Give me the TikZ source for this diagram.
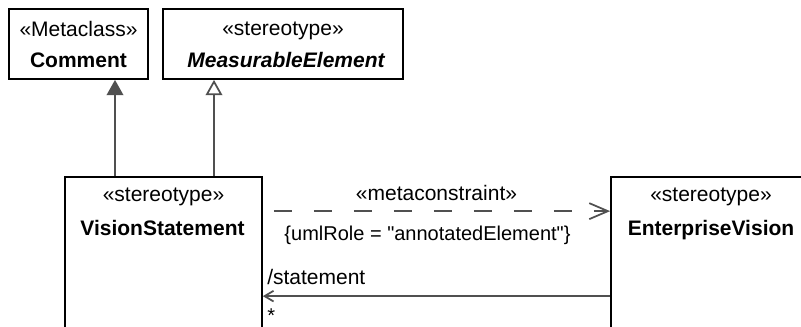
\documentclass[tikz,border=0pt]{standalone}
\usepackage{fontspec}
\setmainfont{Liberation Sans}
\usetikzlibrary{arrows.meta,calc,fit}
\definecolor{conn}{HTML}{505050}
\newcommand{\straightdq}{\XeTeXglyph\XeTeXglyphindex "quotedbl"\relax}
\tikzset{
  box/.style={draw=black, line width=1.3pt, inner sep=0pt, fill=white},
  lbl/.style={inner sep=0pt, anchor=base, font=\fontsize{15.75}{19}\selectfont},
  lblsmall/.style={inner sep=0pt, anchor=base, font=\fontsize{15}{18}\selectfont},
  connline/.style={draw=conn, line width=1.3pt},
  genfilled/.style={connline, -{Triangle[length=11.5pt, width=12.5pt, fill=conn]}},
  genopen/.style={connline, -{Triangle[open, length=11.5pt, width=12.5pt, fill=white]}},
  dashdep/.style={connline, dash pattern=on 13.5pt off 16.5pt, -{Straight Barb[length=14pt, width=12pt]}},
  assoc/.style={connline, -{Straight Barb[length=6.75pt, width=8pt]}}
}
\begin{document}
\begin{tikzpicture}[x=0.75pt, y=-0.75pt]
\useasboundingbox (0,0) rectangle (801,326);
\clip (0,0) rectangle (801,326);
\fill[white] (0,0) rectangle (801,326);

% boxes
\node[box, fit={(9,9)(148,79)}] (cm) {};
\node[box, fit={(163,9)(403,79)}] (me) {};
\node[box, fit={(65,177)(262,345)}] (vs) {};
\node[box, fit={(611,177)(815,345)}] (ev) {};

% texts
\node[lbl] (cmst) at (78.5,36) {«Metaclass»};
\node[lbl] (cmname) at (78.5,67) {\bfseries Comment};
\node[lbl] (mest) at (283,35) {«stereotype»};
\node[lbl] (mename) at (286,67) {\bfseries\itshape MeasurableElement};
\node[lbl] (vsst) at (163.5,201) {«stereotype»};
\node[lbl] (vsname) at (162.5,235) {\bfseries VisionStatement};
\node[lbl] (evst) at (711,201) {«stereotype»};
\node[lbl] (evname) at (711,235) {\bfseries EnterpriseVision};

% connectors
\coordinate (g1) at ($(vs.north)+(-48.5,0)$);
\coordinate (g2) at ($(vs.north)+(50.5,0)$);
\draw[genfilled] (g1) -- (g1 |- cm.south);
\draw[genopen] (g2) -- (g2 |- me.south);

\coordinate (d1) at ($(vs.north east)+(11,35)$);
\draw[dashdep] (d1) -- (d1 -| ev.west);
\node[lbl] (mc) at (436.5,200) {«metaconstraint»};
\node[lblsmall] (role) at (427.5,240) {\{umlRole = \straightdq annotatedElement\straightdq\}};

\coordinate (a1) at ($(ev.north west)+(0,120)$);
\draw[assoc] (a1) -- (a1 -| vs.east);
\node[lbl, anchor=base west] (st) at (267,284) {/statement};
\node[lblsmall, anchor=base west] (mult) at (267,322) {*};
\end{tikzpicture}
\end{document}
